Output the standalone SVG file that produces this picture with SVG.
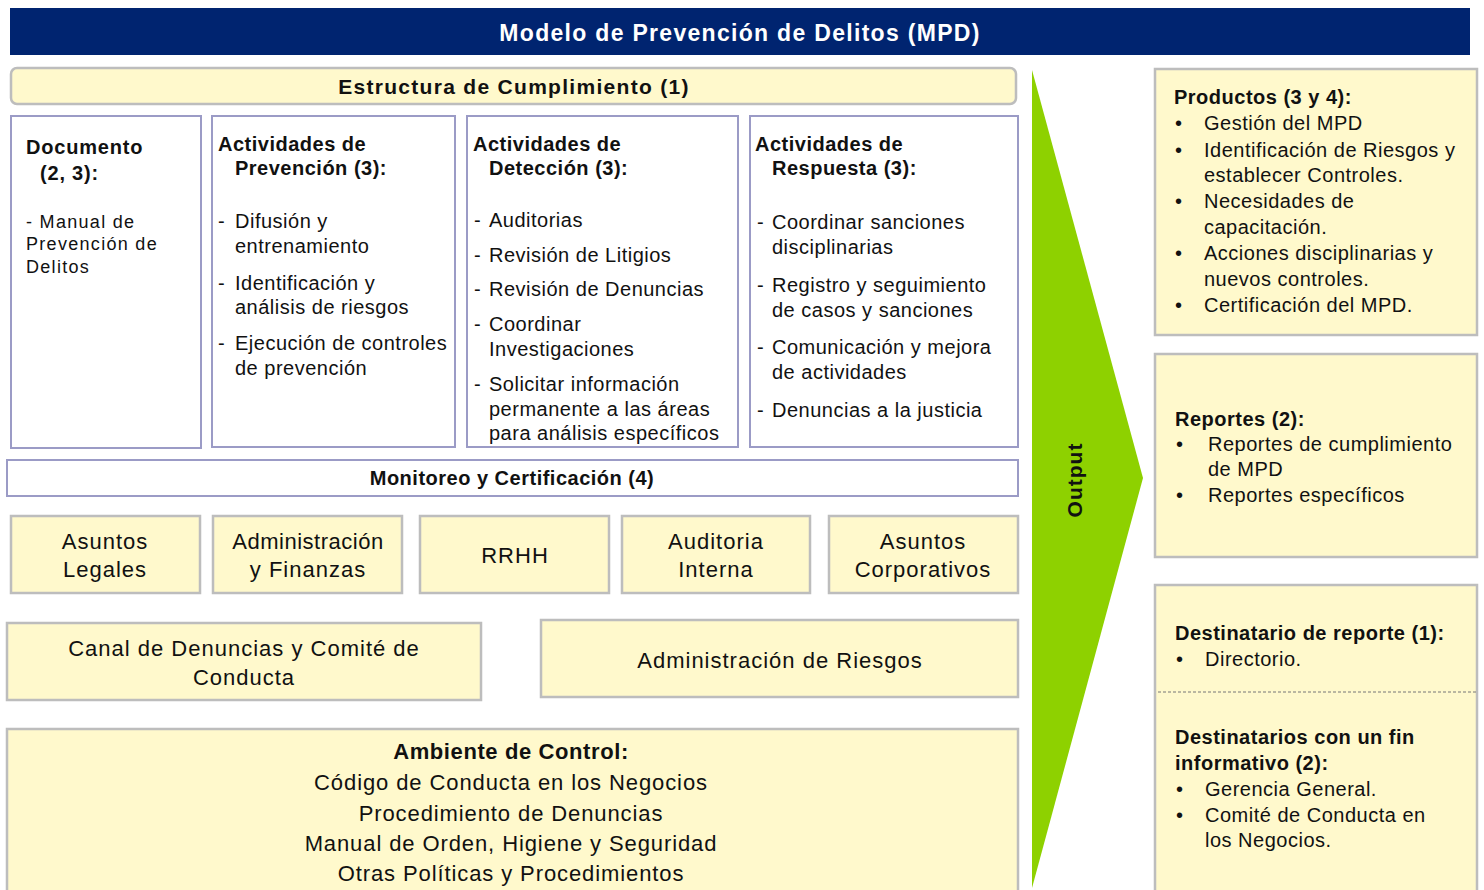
<svg xmlns="http://www.w3.org/2000/svg" width="1484" height="890" viewBox="0 0 1484 890">
<style>
text{font-family:"Liberation Sans",Arial,sans-serif;fill:#111;}
.b{font-weight:bold;}
.t20{font-size:20px;letter-spacing:0.5px;}
.t22{font-size:22px;letter-spacing:1px;}
.doc{font-size:18px;letter-spacing:1.3px;}
.ybox{fill:#fff9cc;stroke:#bdbdbd;stroke-width:2.5;}
.pbox{fill:#ffffff;stroke:#9b9bc6;stroke-width:2;}
.c{text-anchor:middle;}
</style>
<rect width="1484" height="890" fill="#ffffff"/>
<g id="title">
<rect x="10" y="8" width="1460" height="47" fill="#002470"/>
<text x="740" y="41" class="b c" style="font-size:23px;letter-spacing:1.3px;fill:#ffffff">Modelo de Prevención de Delitos (MPD)</text>
</g>
<g id="estructura">
<rect x="11" y="68" width="1005" height="36" rx="6" class="ybox"/>
<text x="514" y="94" class="b c" style="font-size:21px;letter-spacing:1.3px">Estructura de Cumplimiento (1)</text>
</g>
<g id="documento">
<rect x="11" y="116" width="190" height="332" class="pbox"/>
<text x="26" y="154" class="b" style="font-size:20px;letter-spacing:0.8px">Documento</text>
<text x="40" y="180" class="b" style="font-size:20px;letter-spacing:0.8px">(2, 3):</text>
<text x="26" y="228" class="doc">- Manual de</text>
<text x="26" y="250" class="doc">Prevención de</text>
<text x="26" y="273" class="doc">Delitos</text>
</g>
<g id="prevencion">
<rect x="212" y="116" width="243" height="331" class="pbox"/>
<text x="218" y="151" class="b t20">Actividades de</text>
<text x="235" y="175" class="b t20">Prevención (3):</text>
<text x="218" y="228" class="t20">-</text><text x="235" y="228" class="t20">Difusión y</text>
<text x="235" y="253" class="t20">entrenamiento</text>
<text x="218" y="290" class="t20">-</text><text x="235" y="290" class="t20">Identificación y</text>
<text x="235" y="314" class="t20">análisis de riesgos</text>
<text x="218" y="350" class="t20">-</text><text x="235" y="350" class="t20">Ejecución de controles</text>
<text x="235" y="375" class="t20">de prevención</text>
</g>
<g id="deteccion">
<rect x="467" y="116" width="271" height="331" class="pbox"/>
<text x="473" y="151" class="b t20">Actividades de</text>
<text x="489" y="175" class="b t20">Detección (3):</text>
<text x="474" y="227" class="t20">-</text><text x="489" y="227" class="t20">Auditorias</text>
<text x="474" y="262" class="t20">-</text><text x="489" y="262" class="t20">Revisión de Litigios</text>
<text x="474" y="296" class="t20">-</text><text x="489" y="296" class="t20">Revisión de Denuncias</text>
<text x="474" y="331" class="t20">-</text><text x="489" y="331" class="t20">Coordinar</text>
<text x="489" y="356" class="t20">Investigaciones</text>
<text x="474" y="391" class="t20">-</text><text x="489" y="391" class="t20">Solicitar información</text>
<text x="489" y="416" class="t20">permanente a las áreas</text>
<text x="489" y="440" class="t20">para análisis específicos</text>
</g>
<g id="respuesta">
<rect x="750" y="116" width="268" height="331" class="pbox"/>
<text x="755" y="151" class="b t20">Actividades de</text>
<text x="772" y="175" class="b t20">Respuesta (3):</text>
<text x="757" y="229" class="t20">-</text><text x="772" y="229" class="t20">Coordinar sanciones</text>
<text x="772" y="254" class="t20">disciplinarias</text>
<text x="757" y="292" class="t20">-</text><text x="772" y="292" class="t20">Registro y seguimiento</text>
<text x="772" y="317" class="t20">de casos y sanciones</text>
<text x="757" y="354" class="t20">-</text><text x="772" y="354" class="t20">Comunicación y mejora</text>
<text x="772" y="379" class="t20">de actividades</text>
<text x="757" y="417" class="t20">-</text><text x="772" y="417" class="t20">Denuncias a la justicia</text>
</g>
<g id="monitoreo">
<rect x="7" y="460" width="1011" height="36" class="pbox"/>
<text x="512" y="485" class="b c t20">Monitoreo y Certificación (4)</text>
</g>
<g id="asuntos-legales">
<rect x="11" y="516" width="189" height="77" class="ybox"/>
<text x="105" y="549" class="c t22">Asuntos</text>
<text x="105" y="577" class="c t22">Legales</text>
</g>
<g id="admin-finanzas">
<rect x="213" y="516" width="189" height="77" class="ybox"/>
<text x="308" y="549" class="c t22" style="letter-spacing:0.5px">Administración</text>
<text x="308" y="577" class="c t22">y Finanzas</text>
</g>
<g id="rrhh">
<rect x="420" y="516" width="189" height="77" class="ybox"/>
<text x="515" y="563" class="c t22">RRHH</text>
</g>
<g id="auditoria">
<rect x="622" y="516" width="188" height="77" class="ybox"/>
<text x="716" y="549" class="c t22">Auditoria</text>
<text x="716" y="577" class="c t22">Interna</text>
</g>
<g id="asuntos-corp">
<rect x="829" y="516" width="189" height="77" class="ybox"/>
<text x="923" y="549" class="c t22">Asuntos</text>
<text x="923" y="577" class="c t22">Corporativos</text>
</g>
<g id="canal">
<rect x="7" y="623" width="474" height="77" class="ybox"/>
<text x="244" y="656" class="c t22">Canal de Denuncias y Comité de</text>
<text x="244" y="685" class="c t22">Conducta</text>
</g>
<g id="riesgos">
<rect x="541" y="620" width="477" height="77" class="ybox"/>
<text x="780" y="668" class="c t22">Administración de Riesgos</text>
</g>
<g id="ambiente">
<rect x="7" y="729" width="1011" height="170" class="ybox"/>
<text x="511" y="759" class="b c t22" style="letter-spacing:0.6px">Ambiente de Control:</text>
<text x="511" y="790" class="c t22" style="letter-spacing:0.9px">Código de Conducta en los Negocios</text>
<text x="511" y="821" class="c t22" style="letter-spacing:0.9px">Procedimiento de Denuncias</text>
<text x="511" y="851" class="c t22" style="letter-spacing:0.9px">Manual de Orden, Higiene y Seguridad</text>
<text x="511" y="881" class="c t22" style="letter-spacing:0.9px">Otras Políticas y Procedimientos</text>
</g>
<g id="connectors">
<g id="output-arrow">
<polygon points="1032,70 1143,478 1032,888" fill="#8ed100"/>
<text transform="translate(1082,480) rotate(-90)" class="b c" style="font-size:21px;letter-spacing:1px">Output</text>
</g>
</g>
<g id="productos">
<rect x="1155" y="69" width="322" height="266" class="ybox"/>
<text x="1174" y="104" class="b t20">Productos (3 y 4):</text>
<text x="1175" y="130" class="t20">•</text><text x="1204" y="130" class="t20">Gestión del MPD</text>
<text x="1175" y="157" class="t20">•</text><text x="1204" y="157" class="t20">Identificación de Riesgos y</text>
<text x="1204" y="182" class="t20">establecer Controles.</text>
<text x="1175" y="208" class="t20">•</text><text x="1204" y="208" class="t20">Necesidades de</text>
<text x="1204" y="234" class="t20">capacitación.</text>
<text x="1175" y="260" class="t20">•</text><text x="1204" y="260" class="t20">Acciones disciplinarias y</text>
<text x="1204" y="286" class="t20">nuevos controles.</text>
<text x="1175" y="312" class="t20">•</text><text x="1204" y="312" class="t20">Certificación del MPD.</text>
</g>
<g id="reportes">
<rect x="1155" y="354" width="322" height="203" class="ybox"/>
<text x="1175" y="426" class="b t20">Reportes (2):</text>
<text x="1176" y="451" class="t20">•</text><text x="1208" y="451" class="t20">Reportes de cumplimiento</text>
<text x="1208" y="476" class="t20">de MPD</text>
<text x="1176" y="502" class="t20">•</text><text x="1208" y="502" class="t20">Reportes específicos</text>
</g>
<g id="destinatarios">
<rect x="1155" y="585" width="322" height="315" class="ybox"/>
<text x="1175" y="640" class="b t20">Destinatario de reporte (1):</text>
<text x="1176" y="666" class="t20">•</text><text x="1205" y="666" class="t20">Directorio.</text>
<line x1="1158" y1="692" x2="1477" y2="692" stroke="#777" stroke-width="1" stroke-dasharray="3,2"/>
<text x="1175" y="744" class="b t20">Destinatarios con un fin</text>
<text x="1175" y="770" class="b t20">informativo (2):</text>
<text x="1176" y="796" class="t20">•</text><text x="1205" y="796" class="t20">Gerencia General.</text>
<text x="1176" y="822" class="t20">•</text><text x="1205" y="822" class="t20">Comité de Conducta en</text>
<text x="1205" y="847" class="t20">los Negocios.</text>
</g>
</svg>
